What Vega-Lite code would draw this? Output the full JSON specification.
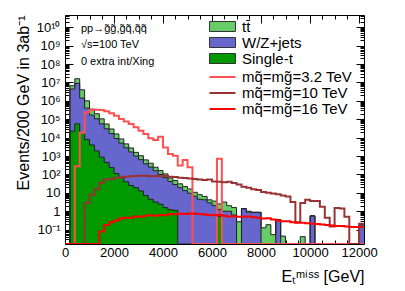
{
  "$schema": "https://vega.github.io/schema/vega-lite/v6.json",
  "width": 299,
  "height": 229,
  "autosize": {"type": "none"},
  "padding": {"left": 65, "top": 15, "right": 41, "bottom": 47},
  "background": "white",
  "config": {
    "font": "Liberation Sans",
    "view": {"stroke": null},
    "axis": {"domainColor": "black", "tickColor": "black", "labelColor": "black", "titleColor": "black", "labelFont": "Liberation Sans", "titleFont": "Liberation Sans", "titleFontWeight": "normal", "grid": false, "zindex": 1, "domainWidth": 1, "tickWidth": 1},
    "legend": {"labelFont": "Liberation Sans", "labelColor": "black"}
  },
  "data": {"values": [
    {"e": 0, "tt": 0, "wz": 0, "st": 0, "s32": 0, "s10": 0, "s16": 0},
    {"e": 200, "tt": 6610000, "wz": 4370000, "st": 22400, "s32": 0, "s10": 0, "s16": 0},
    {"e": 400, "tt": 15850000, "wz": 8910000, "st": 56200, "s32": 282, "s10": 0, "s16": 0},
    {"e": 600, "tt": 3980000, "wz": 1410000, "st": 18600, "s32": 18600, "s10": 0, "s16": 0},
    {"e": 800, "tt": 1000000, "wz": 398000, "st": 7940, "s32": 240000, "s10": 2.82, "s16": 0},
    {"e": 1000, "tt": 355000, "wz": 166000, "st": 3980, "s32": 316000, "s10": 7.94, "s16": 0},
    {"e": 1200, "tt": 200000, "wz": 105000, "st": 1905, "s32": 331000, "s10": 15.8, "s16": 0},
    {"e": 1400, "tt": 105000, "wz": 56200, "st": 871, "s32": 316000, "s10": 35.5, "s16": 0.0794},
    {"e": 1600, "tt": 55000, "wz": 30200, "st": 447, "s32": 269000, "s10": 52.5, "s16": 0.178},
    {"e": 1800, "tt": 29500, "wz": 16600, "st": 234, "s32": 209000, "s10": 56.2, "s16": 0.251},
    {"e": 2000, "tt": 15800, "wz": 8910, "st": 112, "s32": 155000, "s10": 66.1, "s16": 0.316},
    {"e": 2200, "tt": 8510, "wz": 5010, "st": 66.1, "s32": 102000, "s10": 70.8, "s16": 0.398},
    {"e": 2400, "tt": 4570, "wz": 2820, "st": 39.8, "s32": 75900, "s10": 75.9, "s16": 0.447},
    {"e": 2600, "tt": 2750, "wz": 1660, "st": 25.1, "s32": 55000, "s10": 79.4, "s16": 0.437},
    {"e": 2800, "tt": 1585, "wz": 1000, "st": 19.1, "s32": 36300, "s10": 83.2, "s16": 0.525},
    {"e": 3000, "tt": 1047, "wz": 631, "st": 12.6, "s32": 24000, "s10": 85.1, "s16": 0.501},
    {"e": 3200, "tt": 617, "wz": 380, "st": 7.08, "s32": 15800, "s10": 85.1, "s16": 0.562},
    {"e": 3400, "tt": 407, "wz": 251, "st": 4.47, "s32": 9120, "s10": 79.4, "s16": 0.603},
    {"e": 3600, "tt": 245, "wz": 158, "st": 3.16, "s32": 7410, "s10": 83.2, "s16": 0.575},
    {"e": 3800, "tt": 162, "wz": 100, "st": 2.4, "s32": 11200, "s10": 79.4, "s16": 0.631},
    {"e": 4000, "tt": 107, "wz": 67.6, "st": 1.58, "s32": 2950, "s10": 85.1, "s16": 0.603},
    {"e": 4200, "tt": 64.6, "wz": 41.7, "st": 1.2, "s32": 1290, "s10": 75.9, "s16": 0.708},
    {"e": 4400, "tt": 46.8, "wz": 28.2, "st": 1.12, "s32": 1047, "s10": 72.4, "s16": 0.676},
    {"e": 4600, "tt": 30.9, "wz": 19.1, "st": 0, "s32": 302, "s10": 66.1, "s16": 0.724},
    {"e": 4800, "tt": 21.9, "wz": 13.2, "st": 0, "s32": 617, "s10": 63.1, "s16": 0.708},
    {"e": 5000, "tt": 16.2, "wz": 9.55, "st": 0, "s32": 245, "s10": 60.3, "s16": 0.759},
    {"e": 5200, "tt": 10.7, "wz": 6.61, "st": 0, "s32": 0, "s10": 56.2, "s16": 0.724},
    {"e": 5400, "tt": 7.94, "wz": 4.47, "st": 0, "s32": 0, "s10": 52.5, "s16": 0.708},
    {"e": 5600, "tt": 6.31, "wz": 4.17, "st": 0, "s32": 0, "s10": 50.1, "s16": 0.661},
    {"e": 5800, "tt": 4.17, "wz": 2.88, "st": 0, "s32": 0, "s10": 52.5, "s16": 0.631},
    {"e": 6000, "tt": 3.55, "wz": 2.0, "st": 0, "s32": 0, "s10": 41.7, "s16": 0.603},
    {"e": 6200, "tt": 2.51, "wz": 1.26, "st": 0.5, "s32": 708, "s10": 39.8, "s16": 0.631},
    {"e": 6400, "tt": 3.16, "wz": 1.0, "st": 0, "s32": 0, "s10": 38.0, "s16": 0.562},
    {"e": 6600, "tt": 2.0, "wz": 1.0, "st": 0, "s32": 0, "s10": 39.8, "s16": 0.525},
    {"e": 6800, "tt": 1.58, "wz": 0.631, "st": 0, "s32": 0, "s10": 34.7, "s16": 0.537},
    {"e": 7000, "tt": 0.269, "wz": 0, "st": 0, "s32": 0, "s10": 28.2, "s16": 0.501},
    {"e": 7200, "tt": 1.41, "wz": 1.35, "st": 0, "s32": 0, "s10": 21.4, "s16": 0.501},
    {"e": 7400, "tt": 1.0, "wz": 0.891, "st": 0, "s32": 0, "s10": 19.1, "s16": 0.525},
    {"e": 7600, "tt": 0.891, "wz": 0.85, "st": 0, "s32": 0, "s10": 15.8, "s16": 0.479},
    {"e": 7800, "tt": 0.891, "wz": 0.85, "st": 0, "s32": 0, "s10": 14.1, "s16": 0.447},
    {"e": 8000, "tt": 0.126, "wz": 0, "st": 0, "s32": 0, "s10": 11.2, "s16": 0.398},
    {"e": 8200, "tt": 0.186, "wz": 0, "st": 0, "s32": 0, "s10": 10, "s16": 0.417},
    {"e": 8400, "tt": 0.0537, "wz": 0, "st": 0, "s32": 0, "s10": 9.33, "s16": 0.355},
    {"e": 8600, "tt": 0.347, "wz": 0.347, "st": 0, "s32": 0, "s10": 8.32, "s16": 0.316},
    {"e": 8800, "tt": 0.0447, "wz": 0, "st": 0, "s32": 0, "s10": 7.08, "s16": 0.282},
    {"e": 9000, "tt": 0, "wz": 0, "st": 0, "s32": 0, "s10": 6.31, "s16": 0.282},
    {"e": 9200, "tt": 0, "wz": 0, "st": 0, "s32": 0, "s10": 3.16, "s16": 0.251},
    {"e": 9400, "tt": 0, "wz": 0, "st": 0, "s32": 0, "s10": 0.251, "s16": 0.24},
    {"e": 9600, "tt": 0.0417, "wz": 0, "st": 0, "s32": 0, "s10": 2.82, "s16": 0.24},
    {"e": 9800, "tt": 0, "wz": 0, "st": 0, "s32": 0, "s10": 4.17, "s16": 0.224},
    {"e": 10000, "tt": 0.562, "wz": 0.562, "st": 0, "s32": 0, "s10": 3.55, "s16": 0.209},
    {"e": 10200, "tt": 0, "wz": 0, "st": 0, "s32": 0, "s10": 3.55, "s16": 0.2},
    {"e": 10400, "tt": 0, "wz": 0, "st": 0, "s32": 0, "s10": 1.78, "s16": 0.191},
    {"e": 10600, "tt": 0, "wz": 0, "st": 0, "s32": 0, "s10": 0.447, "s16": 0.178},
    {"e": 10800, "tt": 0, "wz": 0, "st": 0, "s32": 0, "s10": 0.148, "s16": 0.166},
    {"e": 11000, "tt": 0, "wz": 0, "st": 0, "s32": 0, "s10": 1.51, "s16": 0.158},
    {"e": 11200, "tt": 0, "wz": 0, "st": 0, "s32": 0, "s10": 1.41, "s16": 0.158},
    {"e": 11400, "tt": 0, "wz": 0, "st": 0, "s32": 0, "s10": 0.501, "s16": 0.148},
    {"e": 11600, "tt": 0, "wz": 0, "st": 0, "s32": 0, "s10": 0, "s16": 0.141},
    {"e": 11800, "tt": 0, "wz": 0, "st": 0, "s32": 0, "s10": 0, "s16": 0.138},
    {"e": 12000, "tt": 0.186, "wz": 0.186, "st": 0, "s32": 0, "s10": 0.21, "s16": 0.138},
    {"e": 12200, "tt": 0.186, "wz": 0.186, "st": 0, "s32": 0, "s10": 0.21, "s16": 0.138}
  ]},
  "resolve": {"axis": {"x": "independent", "y": "independent"}},
  "layer": [
    {
      "transform": [{"fold": ["tt", "wz", "st"], "as": ["k1", "v1"]}],
      "mark": {"type": "area", "interpolate": "step-after", "clip": true},
      "encoding": {
        "x": {"field": "e", "type": "quantitative",
          "scale": {"domain": [0, 12200], "nice": false, "zero": false},
          "axis": {"orient": "bottom", "values": [0,500,1000,1500,2000,2500,3000,3500,4000,4500,5000,5500,6000,6500,7000,7500,8000,8500,9000,9500,10000,10500,11000,11500,12000],
            "labelExpr": "datum.value % 2000 == 0 ? format(datum.value, 'd') : ''",
            "tickSize": {"condition": {"test": "datum.value % 2000 == 0", "value": -8}, "value": -4},
            "labelPadding": 10, "labelFontSize": 13, "labelOverlap": false, "labelFlush": false,
            "title": "Eₜᵐⁱˢˢ [GeV]", "titleAnchor": "end", "titleFontSize": 16, "titlePadding": 5}},
        "y": {"field": "v1", "type": "quantitative", "stack": null,
          "scale": {"type": "log", "domain": [0.0166, 46000000000], "clamp": true, "nice": false},
          "axis": {"orient": "left", "tickCount": 200,
            "labelExpr": "abs(log(datum.value)/LN10 - round(log(datum.value)/LN10)) < 0.01 ? ['10⁻¹','1','10','10²','10³','10⁴','10⁵','10⁶','10⁷','10⁸','10⁹','10¹⁰'][round(log(datum.value)/LN10)+1] : ''",
            "tickSize": {"condition": {"test": "abs(log(datum.value)/LN10 - round(log(datum.value)/LN10)) < 0.01", "value": -8}, "value": -4},
            "labelPadding": 13, "labelFontSize": 13, "labelOverlap": false,
            "title": "Events/200 GeV in 3ab⁻¹", "titleAnchor": "end", "titleFontSize": 16, "titlePadding": 5}},
        "fill": {"field": "k1", "type": "nominal",
          "scale": {"domain": ["tt", "wz", "st"], "range": ["#66cc66", "#6666cc", "#009900"]},
          "legend": {"orient": "none", "legendX": 150, "legendY": 4, "title": null,
            "symbolType": "M-2.6,-1H2.6V1H-2.6Z", "symbolSize": 100, "symbolStrokeColor": "#333", "symbolStrokeWidth": 1, "symbolOpacity": 1,
            "labelFontSize": 15, "labelOffset": 12, "rowPadding": -1.7,
            "labelExpr": "datum.label == 'tt' ? 'tt̄' : datum.label == 'wz' ? 'W/Z+jets' : 'Single-t'"}}
      }
    },
    {
      "transform": [{"fold": ["tt", "wz", "st"], "as": ["k1", "v1"]}],
      "mark": {"type": "line", "interpolate": "step-after", "clip": true, "stroke": "#222222", "strokeWidth": 1},
      "encoding": {
        "x": {"field": "e", "type": "quantitative", "scale": {"domain": [0, 12200], "nice": false, "zero": false},
          "axis": {"orient": "top", "labels": false, "title": null, "values": [0,500,1000,1500,2000,2500,3000,3500,4000,4500,5000,5500,6000,6500,7000,7500,8000,8500,9000,9500,10000,10500,11000,11500,12000],
            "tickSize": {"condition": {"test": "datum.value % 2000 == 0", "value": -8}, "value": -4}}},
        "y": {"field": "v1", "type": "quantitative", "scale": {"type": "log", "domain": [0.0166, 46000000000], "clamp": true, "nice": false},
          "axis": {"orient": "right", "labels": false, "title": null, "tickCount": 200,
            "tickSize": {"condition": {"test": "abs(log(datum.value)/LN10 - round(log(datum.value)/LN10)) < 0.01", "value": -8}, "value": -4}}},
        "detail": {"field": "k1", "type": "nominal"}
      }
    },
    {
      "transform": [{"fold": ["s32", "s10", "s16"], "as": ["k2", "v2"]}],
      "mark": {"type": "line", "interpolate": "step-after", "clip": true, "strokeJoin": "miter"},
      "encoding": {
        "x": {"field": "e", "type": "quantitative", "scale": {"domain": [0, 12200], "nice": false, "zero": false}, "axis": null},
        "y": {"field": "v2", "type": "quantitative", "scale": {"type": "log", "domain": [0.0166, 46000000000], "clamp": true, "nice": false}, "axis": null},
        "stroke": {"field": "k2", "type": "nominal",
          "scale": {"domain": ["s32", "s10", "s16"], "range": ["#ff5050", "#993333", "#ff0000"]},
          "legend": {"orient": "none", "legendX": 150, "legendY": 54.5, "title": null,
            "symbolType": "M-2.6,0H2.6", "symbolSize": 100, "labelFontSize": 15, "labelOffset": 12, "rowPadding": -1.7,
            "labelExpr": "datum.label == 's32' ? 'mq̃=mg̃=3.2 TeV' : datum.label == 's10' ? 'mq̃=mg̃=10 TeV' : 'mq̃=mg̃=16 TeV'",
            "encode": {"symbols": {"update": {"strokeWidth": {"signal": "datum.value == 's16' ? 3 : 2"}}}}}},
        "strokeWidth": {"field": "k2", "type": "ordinal",
          "scale": {"domain": ["s32", "s10", "s16"], "range": [2, 2, 3]}, "legend": null}
      }
    },
    {
      "data": {"values": [{}]},
      "mark": {"type": "text", "align": "left", "baseline": "top", "fontSize": 11, "lineHeight": 16.5, "font": "Liberation Sans", "color": "black"},
      "encoding": {
        "x": {"datum": 650, "type": "quantitative", "scale": {"domain": [0, 12200], "nice": false, "zero": false}, "axis": null},
        "y": {"datum": 17000000000, "type": "quantitative", "scale": {"type": "log", "domain": [0.0166, 46000000000], "clamp": true, "nice": false}, "axis": null},
        "text": {"value": ["pp→g̃g̃,g̃q̃,q̃q̃", "√s=100 TeV", "0 extra int/Xing"]}
      }
    }
  ]
}
